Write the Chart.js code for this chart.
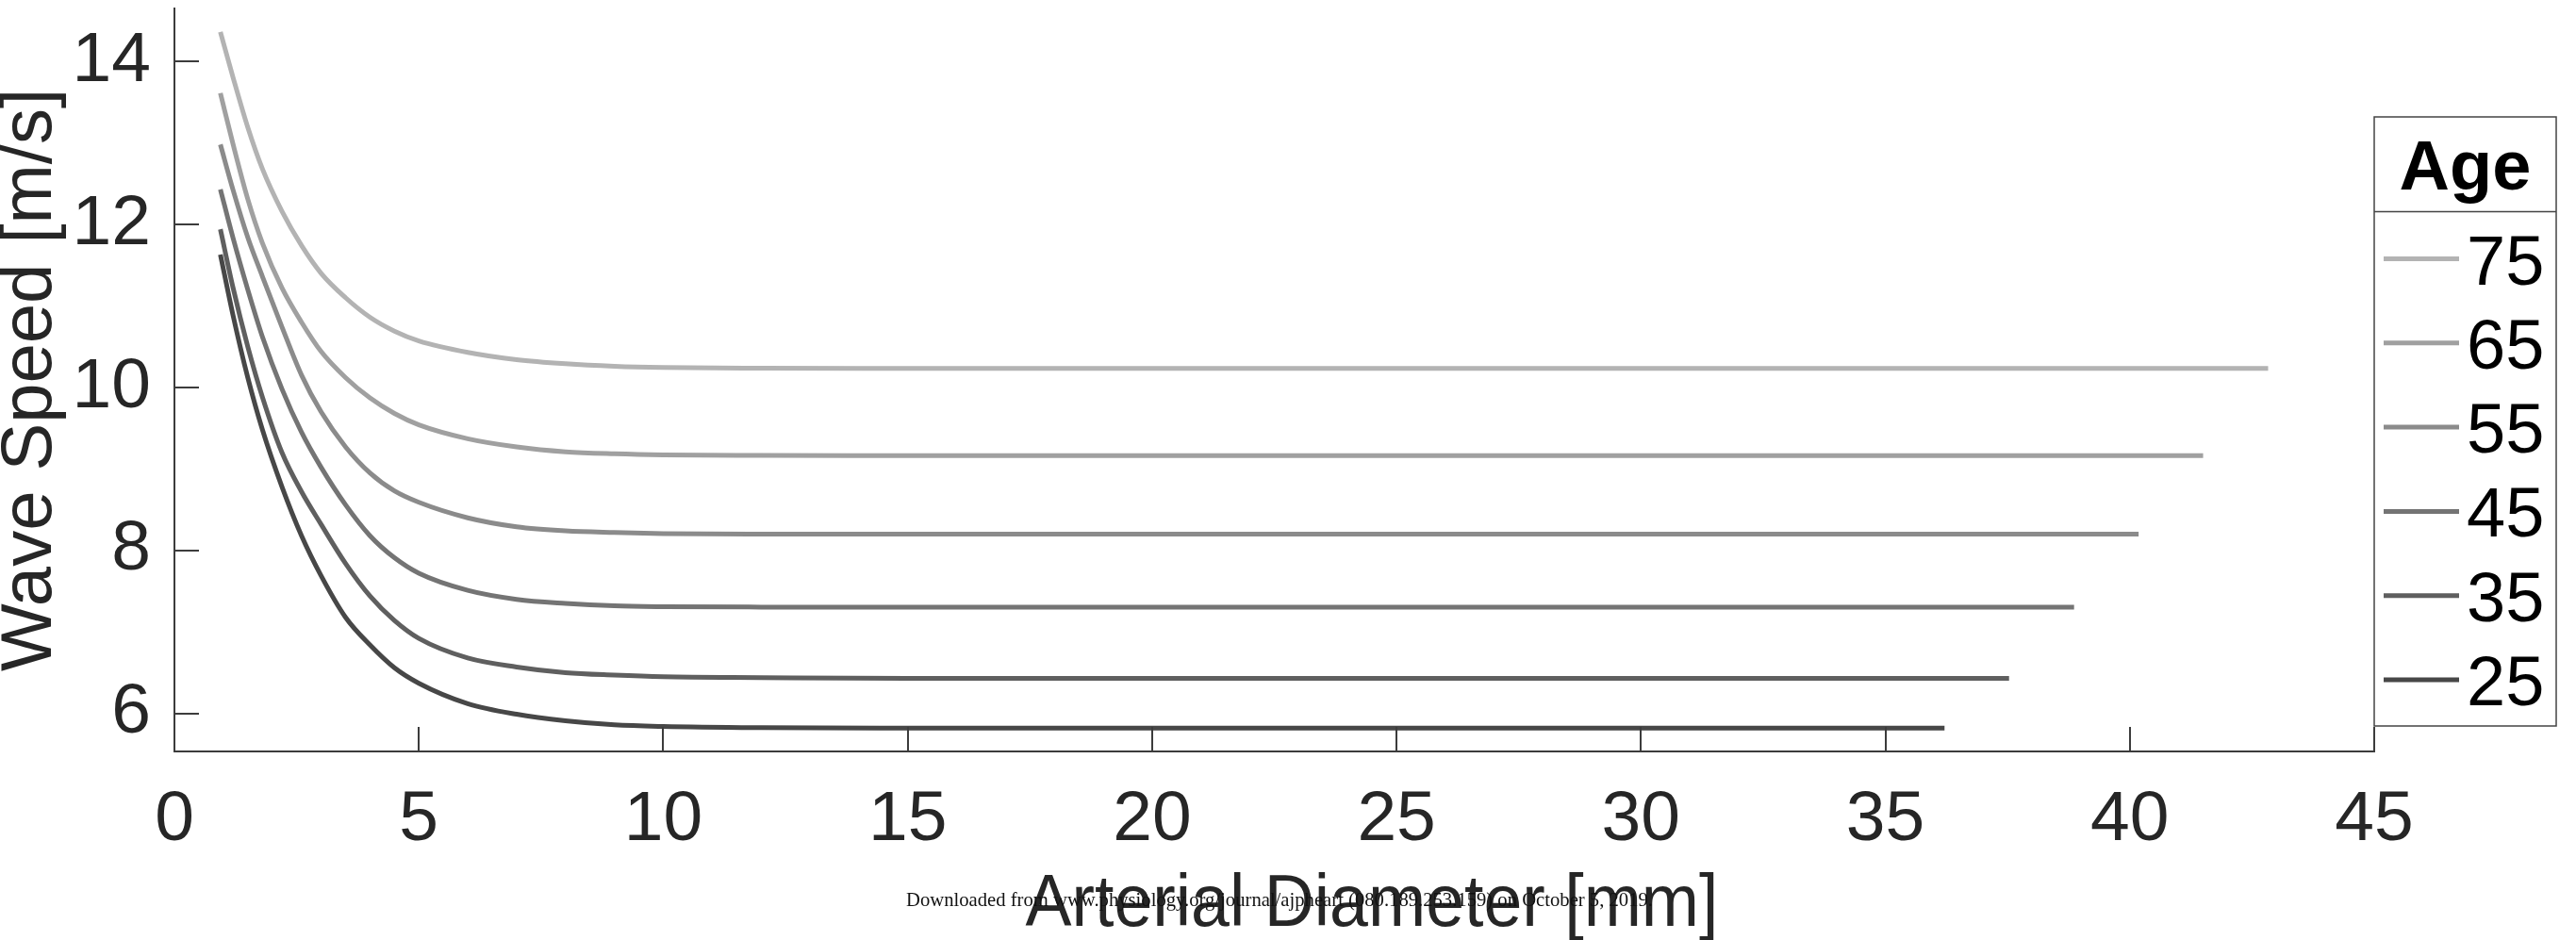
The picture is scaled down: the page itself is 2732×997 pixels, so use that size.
<!DOCTYPE html>
<html>
<head>
<meta charset="utf-8">
<script src="https://cdn.jsdelivr.net/npm/chart.js@4.4.1/dist/chart.umd.min.js"></script>
<style>
  html, body { margin: 0; padding: 0; background: #ffffff; }
  #c { display: block; }
</style>
</head>
<body>
<canvas id="c" width="2732" height="997"></canvas>
<script>
// ---- data ----
const ages = ['75', '65', '55', '45', '35', '25'];
const diameterSamples = [0.94, 1.2, 1.5, 1.8, 2.2, 2.6, 3.0, 3.5, 4.0, 4.5, 5.0, 6.0, 7.0, 8.0, 9.0, 10.0, 12.0, 15.0];
const endDiameters = [42.83, 41.5, 40.18, 38.86, 37.53, 36.21];
const speed75 = [14.36, 13.80, 13.19, 12.68, 12.16, 11.74, 11.40, 11.10, 10.86, 10.69, 10.57, 10.43, 10.34, 10.29, 10.26, 10.245, 10.236, 10.233, 10.233];
const speed65 = [13.61, 12.98, 12.31, 11.77, 11.22, 10.80, 10.44, 10.12, 9.87, 9.68, 9.54, 9.37, 9.27, 9.21, 9.185, 9.172, 9.166, 9.164, 9.164];
const speed55 = [12.98, 12.42, 11.84, 11.36, 10.74, 10.15, 9.70, 9.27, 8.95, 8.73, 8.59, 8.40, 8.29, 8.24, 8.22, 8.207, 8.201, 8.200, 8.200];
const speed45 = [12.43, 11.83, 11.20, 10.62, 9.98, 9.45, 9.02, 8.56, 8.18, 7.91, 7.72, 7.51, 7.40, 7.35, 7.32, 7.31, 7.305, 7.304, 7.304];
const speed35 = [11.94, 11.22, 10.50, 9.88, 9.20, 8.72, 8.32, 7.84, 7.44, 7.14, 6.92, 6.68, 6.57, 6.50, 6.47, 6.45, 6.44, 6.43, 6.43];
const speed25 = [11.63, 10.88, 10.12, 9.48, 8.78, 8.18, 7.69, 7.18, 6.84, 6.56, 6.37, 6.12, 5.99, 5.91, 5.86, 5.84, 5.825, 5.82, 5.82];
const xTickValues = [0, 5, 10, 15, 20, 25, 30, 35, 40, 45];
const yTickValues = [6, 8, 10, 12, 14];
const xRange = [0, 45];
const yRange = [5.534, 14.648];

const xTitle = 'Arterial Diameter [mm]';
const yTitle = 'Wave Speed [m/s]';
const legendTitle = 'Age';
const watermark = 'Downloaded from www.physiology.org/journal/ajpheart (080.189.253.159) on October 5, 2019.';

// ---- styles ----
const lineColors = ['#b3b3b3', '#a0a0a0', '#8b8b8b', '#747474', '#5f5f5f', '#474747'];
const axisColor = '#3c3c3c';
const textColor = '#262626';
const FONT = '"Liberation Sans", Arial, Helvetica, sans-serif';

const speedSeries = [speed75, speed65, speed55, speed45, speed35, speed25];

function buildPoints(speeds, endX) {
  const xs = diameterSamples.concat([endX]);
  return xs.map((x, i) => ({ x: x, y: speeds[i] }));
}

const datasets = ages.map((age, i) => ({
  label: age,
  data: buildPoints(speedSeries[i], endDiameters[i]),
  borderColor: lineColors[i],
  backgroundColor: lineColors[i],
  borderWidth: 5,
  pointRadius: 0,
  fill: false,
  cubicInterpolationMode: 'monotone',
  borderCapStyle: 'butt',
  borderJoinStyle: 'round'
}));

const overlayPlugin = {
  id: 'overlay',
  afterDraw(chart) {
    const ctx = chart.ctx;
    const xs = chart.scales.x, ys = chart.scales.y;
    const area = chart.chartArea;
    const tickLen = 26;
    ctx.save();
    // inward tick marks
    ctx.strokeStyle = axisColor;
    ctx.lineWidth = 2;
    ctx.beginPath();
    xs.ticks.forEach(t => {
      const px = Math.round(xs.getPixelForValue(t.value));
      ctx.moveTo(px, area.bottom);
      ctx.lineTo(px, area.bottom - tickLen);
    });
    ys.ticks.forEach(t => {
      const py = Math.round(ys.getPixelForValue(t.value));
      ctx.moveTo(area.left, py);
      ctx.lineTo(area.left + tickLen, py);
    });
    ctx.stroke();

    // legend box (MATLAB style)
    const bx = area.right, by = 124, bw = 2711 - area.right, bh = 770 - 124;
    ctx.fillStyle = '#ffffff';
    ctx.fillRect(bx, by, bw, bh);
    ctx.strokeStyle = '#444444';
    ctx.lineWidth = 1.5;
    ctx.strokeRect(bx, by, bw, bh);
    ctx.beginPath();
    ctx.moveTo(bx, 224.5);
    ctx.lineTo(bx + bw, 224.5);
    ctx.stroke();
    ctx.fillStyle = '#000000';
    ctx.font = 'bold 74px ' + FONT;
    ctx.textAlign = 'center';
    ctx.textBaseline = 'alphabetic';
    ctx.fillText(legendTitle, bx + bw / 2, 201);
    chart.data.datasets.forEach((ds, i) => {
      const ly = 274.5 + i * 89.3;
      ctx.strokeStyle = ds.borderColor;
      ctx.lineWidth = 5;
      ctx.beginPath();
      ctx.moveTo(2528, ly);
      ctx.lineTo(2608, ly);
      ctx.stroke();
      ctx.fillStyle = '#000000';
      ctx.font = '74px ' + FONT;
      ctx.textAlign = 'left';
      ctx.textBaseline = 'alphabetic';
      ctx.fillText(ds.label, 2616, ly + 27);
    });

    // x axis title
    ctx.fillStyle = textColor;
    ctx.font = '77px ' + FONT;
    ctx.textAlign = 'center';
    ctx.textBaseline = 'alphabetic';
    const tw = ctx.measureText(xTitle).width;
    const targetW = 735;
    ctx.save();
    ctx.translate(1455, 982);
    ctx.scale(targetW / tw, 1);
    ctx.fillText(xTitle, 0, 0);
    ctx.restore();

    // download watermark
    ctx.fillStyle = '#111111';
    ctx.font = '21px "Liberation Serif", "Times New Roman", serif';
    ctx.textAlign = 'left';
    const ww = ctx.measureText(watermark).width;
    ctx.save();
    ctx.translate(961, 961);
    ctx.scale(792 / ww, 1);
    ctx.fillText(watermark, 0, 0);
    ctx.restore();

    ctx.restore();
  }
};

new Chart(document.getElementById('c'), {
  type: 'line',
  data: { datasets: datasets },
  options: {
    responsive: false,
    devicePixelRatio: 1,
    animation: false,
    layout: { padding: { left: 0, right: 214, top: 9, bottom: 0 } },
    plugins: {
      legend: { display: false },
      tooltip: { enabled: false }
    },
    scales: {
      x: {
        type: 'linear',
        position: 'bottom',
        min: xRange[0],
        max: xRange[1],
        afterBuildTicks: s => { s.ticks = xTickValues.map(v => ({ value: v })); },
        afterFit: s => { s.height = 200; s.paddingLeft = 0; s.paddingRight = 0; },
        grid: { display: false, drawTicks: false },
        border: { display: true, color: axisColor, width: 2 },
        ticks: {
          color: textColor,
          font: { family: FONT, size: 75 },
          padding: 28,
          maxRotation: 0,
          autoSkip: false,
          callback: v => String(v)
        },
        title: { display: false }
      },
      y: {
        type: 'linear',
        position: 'left',
        min: yRange[0],
        max: yRange[1],
        afterBuildTicks: s => { s.ticks = yTickValues.map(v => ({ value: v })); },
        afterFit: s => { s.width = 185; s.paddingTop = 0; s.paddingBottom = 0; },
        grid: { display: false, drawTicks: false },
        border: { display: true, color: axisColor, width: 2 },
        ticks: {
          color: textColor,
          font: { family: FONT, size: 75 },
          padding: 25,
          autoSkip: false,
          callback: v => String(v)
        },
        title: {
          display: true,
          text: yTitle,
          color: textColor,
          font: { family: FONT, size: 76, lineHeight: 0.87 },
          padding: 0
        }
      }
    }
  },
  plugins: [overlayPlugin]
});
</script>
</body>
</html>
